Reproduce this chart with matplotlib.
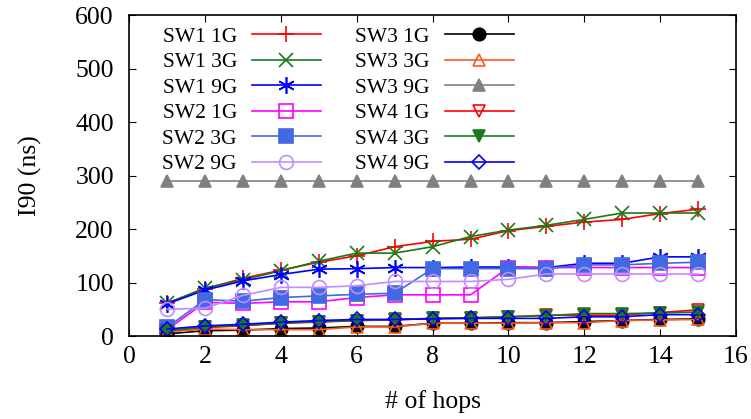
import matplotlib
matplotlib.use("Agg")
import matplotlib.pyplot as plt

plt.rcParams['font.family'] = ['Liberation Serif', 'DejaVu Serif']

hops = list(range(1, 16))

sw1_1g = [62, 88, 108, 123, 138, 150, 167, 177, 181, 197, 205, 213, 218, 229, 237]
sw1_3g = [61, 90, 105, 122, 140, 155, 155, 167, 186, 198, 207, 218, 230, 230, 230]
sw1_9g = [60, 86, 103, 115, 125, 126, 128, 128, 129, 129, 128, 136, 136, 148, 148]
sw2_1g = [12, 63, 61, 64, 64, 72, 77, 77, 77, 128, 128, 128, 128, 128, 128]
sw2_3g = [16, 68, 65, 72, 75, 78, 80, 126, 126, 126, 126, 133, 133, 136, 138]
sw2_9g = [50, 52, 76, 91, 91, 94, 102, 102, 102, 106, 116, 116, 116, 116, 116]
sw3_1g = [4, 10, 11, 14, 15, 18, 18, 24, 24, 25, 25, 27, 29, 31, 32]
sw3_3g = [8, 13, 12, 12, 12, 17, 17, 24, 24, 24, 25, 25, 29, 30, 31]
sw3_9g = [290] * 15
sw4_1g = [10, 16, 19, 24, 26, 29, 30, 33, 34, 36, 39, 39, 39, 44, 49]
sw4_3g = [10, 17, 20, 24, 27, 29, 31, 33, 34, 36, 38, 42, 42, 43, 45]
sw4_9g = [13, 19, 22, 26, 29, 31, 31, 32, 33, 33, 33, 36, 36, 40, 40]

series = [
    ("SW1 1G", sw1_1g, "#ff0000", "+", 12, True),
    ("SW1 3G", sw1_3g, "#1a7a1a", "x", 10, True),
    ("SW1 9G", sw1_9g, "#0000ff", (6, 2, 0), 12, True),
    ("SW2 1G", sw2_1g, "#ff00ff", "s", 10, False),
    ("SW2 3G", sw2_3g, "#4169e1", "s", 10, True),
    ("SW2 9G", sw2_9g, "#c08cff", "o", 10, False),
    ("SW3 1G", sw3_1g, "#000000", "o", 9, True),
    ("SW3 3G", sw3_3g, "#ff5a1e", "^", 9, False),
    ("SW3 9G", sw3_9g, "#808080", "^", 9, True),
    ("SW4 1G", sw4_1g, "#ff0000", "v", 9, False),
    ("SW4 3G", sw4_3g, "#1a7a1a", "v", 9, True),
    ("SW4 9G", sw4_9g, "#0000ff", "D", 7.5, False),
]

fig = plt.figure(figsize=(7.51, 4.19), dpi=100)
ax = fig.add_axes([0.172, 0.198, 0.808, 0.766])

for name, vals, col, mk, ms, filled in series:
    ax.plot(hops, vals, color=col, lw=1.2, marker=mk, ms=ms,
            mfc=col if filled else "none", mec=col, mew=1.2, label=name)

ax.set_xlim(0, 16)
ax.set_ylim(0, 600)
ax.set_xticks(range(0, 17, 2))
ax.set_yticks(range(0, 601, 100))
ax.tick_params(direction="in", length=5, top=True, right=True, labelsize=18.5)
ax.tick_params(axis="x", pad=7)
ax.tick_params(axis="y", pad=11)
for s in ax.spines.values():
    s.set_linewidth(1.2)
ax.set_xlabel("# of hops", fontsize=18.5, labelpad=16)
ax.set_ylabel("I90 (ns)", fontsize=18.5, labelpad=24)

ax.legend(loc="upper left", bbox_to_anchor=(0.03, 1.01), ncol=2, frameon=False,
          markerfirst=False, fontsize=15.5, handlelength=3.2, handletextpad=0.7,
          columnspacing=1.6, labelspacing=0.25, borderaxespad=0.3)

fig.savefig("out.png", dpi=100)
